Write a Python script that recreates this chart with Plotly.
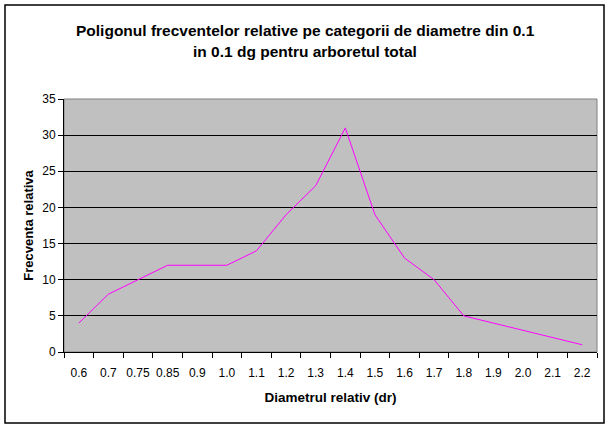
import plotly.graph_objects as go

categories = ["0.6", "0.7", "0.75", "0.85", "0.9", "1.0", "1.1", "1.2", "1.3",
              "1.4", "1.5", "1.6", "1.7", "1.8", "1.9", "2.0", "2.1", "2.2"]
frecventa = [4, 8, 10, 12, 12, 12, 14, 19, 23, 31, 19, 13, 10, 5, 4, 3, 2, 1]
y_ticks = [0, 5, 10, 15, 20, 25, 30, 35]
title_lines = ["Poligonul frecventelor relative pe categorii de diametre din 0.1",
               "in 0.1 dg pentru arboretul total"]

W, H = 612, 429
L, R, T, B = 64, 15, 99, 77
pw = W - L - R
ph = H - T - B

def px_x(p):
    return (p - L) / pw

def px_y(p):
    return (H - B - p) / ph

font = "Arial, Liberation Sans, sans-serif"

fig = go.Figure()
fig.add_trace(go.Scatter(x=categories, y=frecventa, mode="lines",
                         line=dict(color="#FF00FF", width=1), showlegend=False,
                         hoverinfo="x+y"))

fig.update_layout(
    width=W, height=H,
    margin=dict(l=L, r=R, t=T, b=B, autoexpand=False),
    paper_bgcolor="white",
    plot_bgcolor="#C0C0C0",
    xaxis=dict(type="category", tickson="boundaries", ticks="outside", ticklen=5,
               tickcolor="black", showline=True, linecolor="black", linewidth=1,
               showgrid=False, tickangle=0, automargin=False, ticklabelstandoff=10,
               tickfont=dict(family=font, size=12, color="black"),
               title=dict(text="<b>Diametrul relativ (dr)</b>", standoff=13,
                          font=dict(family=font, size=13.5, color="black")),
               range=[-0.5, len(categories) - 0.5]),
    yaxis=dict(range=[0, 35], tickvals=y_ticks, ticks="outside", ticklen=5,
               tickcolor="black", showline=True, linecolor="black", linewidth=1,
               showgrid=True, gridcolor="black", gridwidth=1, zeroline=False,
               automargin=False,
               tickfont=dict(family=font, size=12, color="black"),
               title=dict(text="<b>Frecventa relativa</b>", standoff=5,
                          font=dict(family=font, size=13, color="black"))),
)

for text, ypix in zip(title_lines, [30.5, 52]):
    fig.add_annotation(text="<b>" + text + "</b>", xref="paper", yref="paper",
                       x=px_x(305), y=px_y(ypix), xanchor="center", yanchor="middle",
                       showarrow=False, font=dict(family=font, size=15.5, color="black"))

# gray plot-area border (top/right)
fig.add_shape(type="rect", xref="paper", yref="paper", x0=0, x1=1, y0=0, y1=1,
              line=dict(color="#808080", width=1), layer="below")
# outer chart border
fig.add_shape(type="rect", xref="paper", yref="paper",
              x0=px_x(5), x1=px_x(604), y0=px_y(423), y1=px_y(5),
              line=dict(color="black", width=1.5))

fig.write_html("out.html", config={"displayModeBar": False},
               post_script="document.body.style.margin='0';")
